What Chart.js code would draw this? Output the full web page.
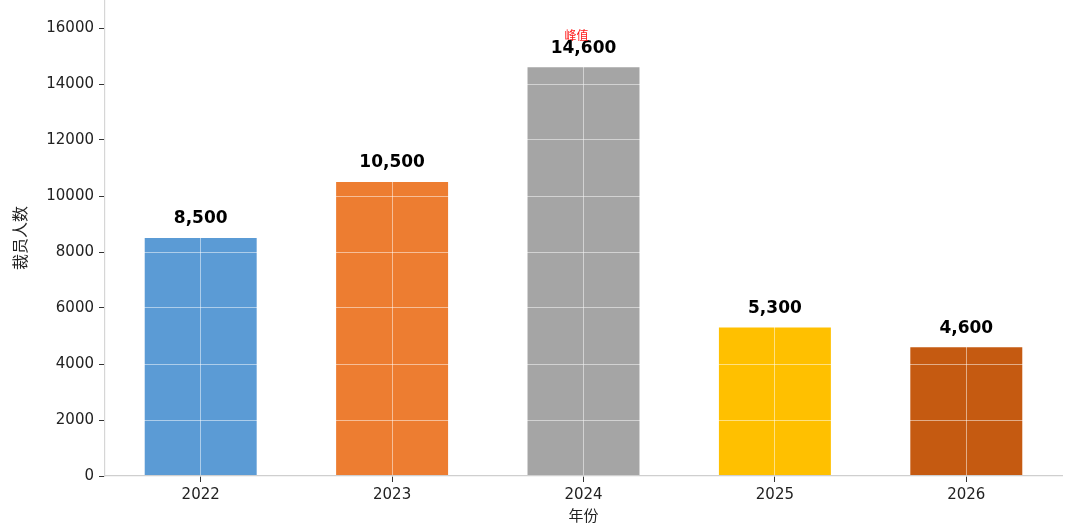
<!DOCTYPE html>
<html>
<head>
<meta charset="utf-8">
<script src="https://cdn.jsdelivr.net/npm/chart.js@4"></script>
<style>
  html, body { margin: 0; padding: 0; background: #fff; }
  #wrap { width: 1080px; height: 528px; }
</style>
</head>
<body>
<div id="wrap"><canvas id="bar-chart" width="1080" height="528"></canvas></div>
<script>
// chart data
const years = ['2022', '2023', '2024', '2025', '2026'];
const layoffs = [8500, 10500, 14600, 5300, 4600];
const barColors = ['#5B9BD5', '#ED7D31', '#A5A5A5', '#FFC000', '#C55A11'];
const yTicks = [0, 2000, 4000, 6000, 8000, 10000, 12000, 14000, 16000];
const peakNote = '峰值';

const FONT = "'DejaVu Sans', 'Noto Sans CJK SC', sans-serif";

// value labels above bars + peak note (drawn last so the grid stays under the text)
const barLabels = {
    id: 'barLabels',
    afterDraw(chart) {
        const ctx = chart.ctx;
        const meta = chart.getDatasetMeta(0);
        const peak = Math.max(...layoffs);
        ctx.save();
        ctx.textAlign = 'center';
        ctx.textBaseline = 'middle';
        meta.data.forEach((bar, i) => {
            ctx.fillStyle = '#000';
            ctx.font = "bold 17px " + FONT;
            ctx.fillText(layoffs[i].toLocaleString('en-US'), bar.x, bar.y - 19);
            if (layoffs[i] === peak) {
                ctx.fillStyle = '#ff1a1a';
                ctx.font = "12px " + FONT;
                ctx.fillText(peakNote, bar.x - 7, bar.y - 30);
            }
        });
        ctx.restore();
    }
};

new Chart(document.getElementById('bar-chart').getContext('2d'), {
    type: 'bar',
    data: {
        labels: years,
        datasets: [{
            label: '裁员人数',
            data: layoffs,
            backgroundColor: barColors,
            barPercentage: 0.585,
            categoryPercentage: 1.0
        }]
    },
    options: {
        responsive: false,
        animation: false,
        devicePixelRatio: 1,
        layout: { padding: { top: 0, right: 18, left: 0, bottom: 0 } },
        plugins: {
            legend: { display: false },
            tooltip: { enabled: false }
        },
        scales: {
            x: {
                grid: {
                    z: 1,
                    color: 'rgba(255,255,255,0.5)',
                    lineWidth: 1,
                    offset: false,
                    tickColor: '#333',
                    tickLength: 6
                },
                border: { z: 2, color: '#cfcfcf', width: 1.2 },
                ticks: { color: '#222', font: { family: FONT, size: 15 }, padding: 4 },
                title: { display: true, text: '年份', color: '#222', font: { family: FONT, size: 15 }, padding: { top: 0, bottom: 2 } },
                afterFit(scale) { scale.height = 52; scale.paddingLeft = 0; scale.paddingRight = 0; }
            },
            y: {
                min: 0,
                max: 17000,
                grid: {
                    z: 1,
                    color: 'rgba(255,255,255,0.5)',
                    lineWidth: 1,
                    tickColor: '#333',
                    tickLength: 6
                },
                border: { z: 2, color: '#d6d6d6', width: 1.2 },
                ticks: {
                    stepSize: 2000, color: '#222', font: { family: FONT, size: 15 }, padding: 5,
                    callback: v => String(v)
                },
                afterBuildTicks(scale) { scale.ticks = yTicks.map(v => ({ value: v })); },
                title: { display: true, text: '裁员人数', color: '#222', font: { family: FONT, size: 16 }, padding: { top: 12, bottom: 0 } },
                afterFit(scale) { scale.width = 105; scale.paddingTop = 0; scale.paddingBottom = 0; }
            }
        }
    },
    plugins: [barLabels]
});
</script>
</body>
</html>
